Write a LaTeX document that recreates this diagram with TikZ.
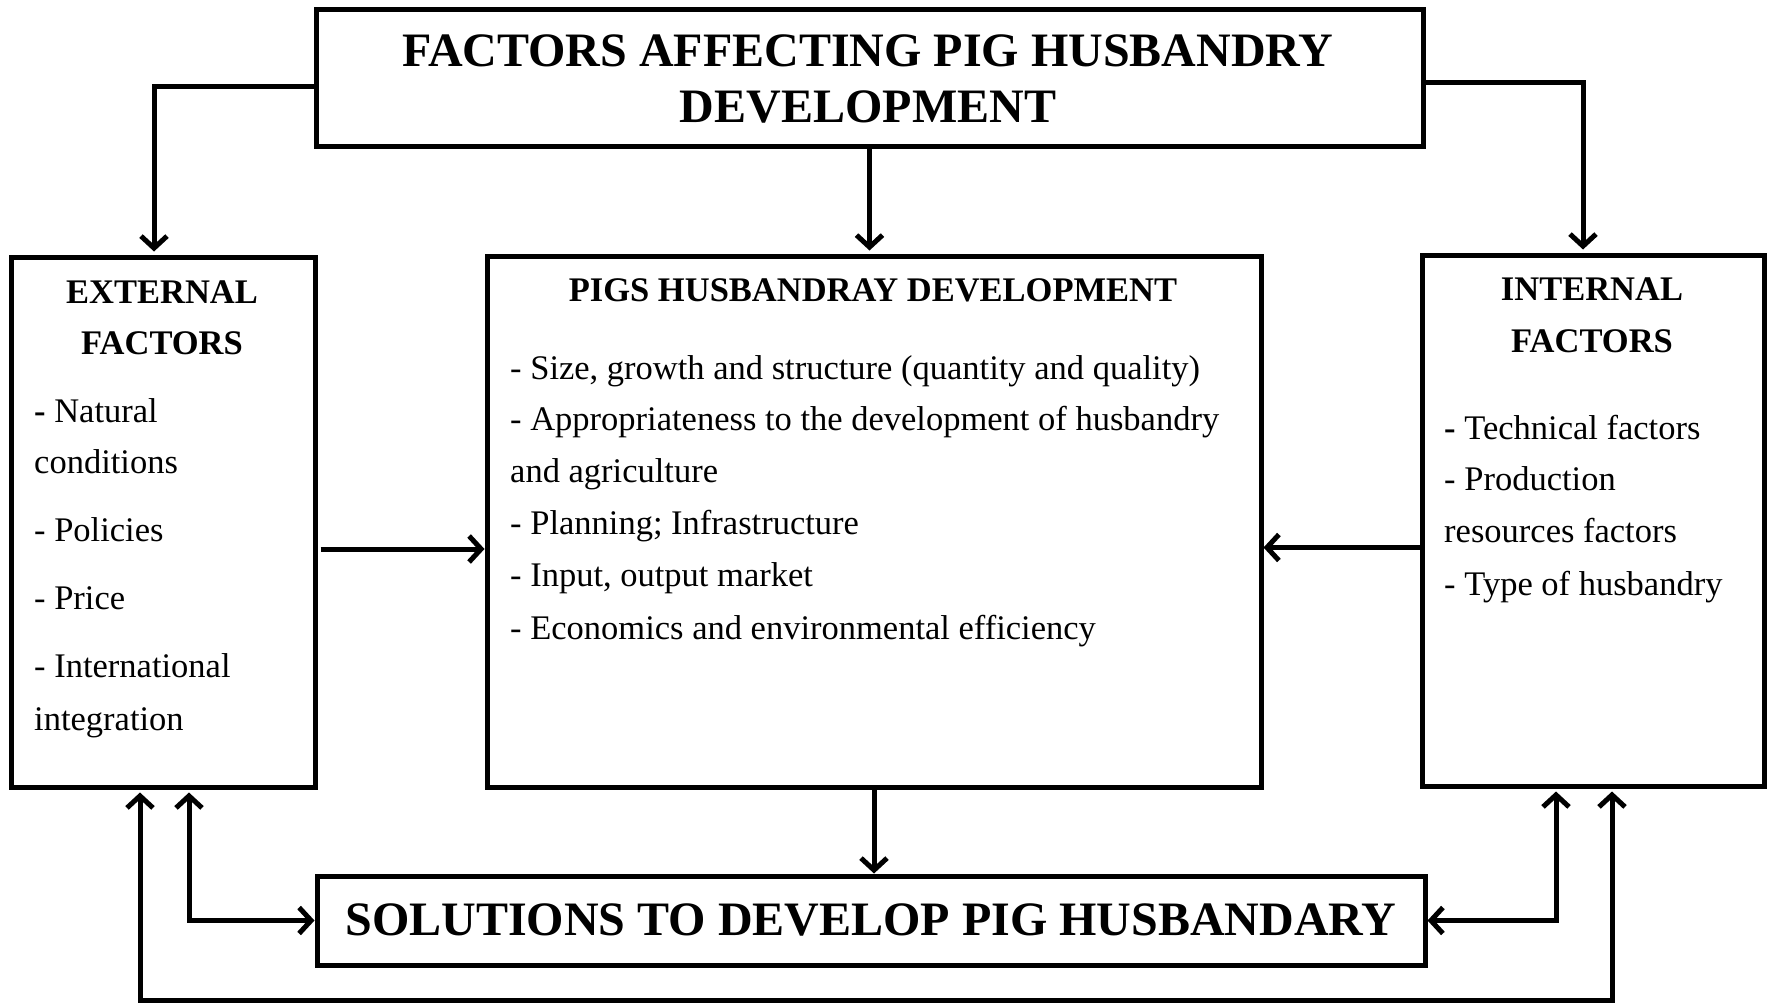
\documentclass[tikz,border=0pt]{standalone}
\usepackage{fontspec}
\setmainfont{Liberation Serif}
\usetikzlibrary{arrows.meta}
\begin{document}
\begin{tikzpicture}[x=1pt,y=-1pt,
  box/.style={draw, line width=5pt, inner sep=0pt, rectangle},
  arr/.style={line width=5pt, -{Straight Barb[length=12pt,width=26pt,line width=5pt]}},
  darr/.style={line width=5pt, {Straight Barb[length=12pt,width=26pt,line width=5pt]}-{Straight Barb[length=12pt,width=26pt,line width=5pt]}},
  body/.style={font=\fontsize{34.5}{40}\selectfont, inner sep=0pt, anchor=base west},
  head/.style={font=\fontsize{34.5}{40}\selectfont\bfseries, inner sep=0pt, anchor=base},
  title/.style={font=\fontsize{48}{56}\selectfont\bfseries, inner sep=0pt, anchor=base}
]
\useasboundingbox (0,0) rectangle (1768,1003);
% boxes
\node[box, minimum width=1107pt, minimum height=137pt] (top) at (869.5,78.5) {};
\node[box, minimum width=304pt, minimum height=530pt] (ext) at (163,522) {};
\node[box, minimum width=774pt, minimum height=531pt] (cen) at (874,521.5) {};
\node[box, minimum width=342pt, minimum height=531pt] (int) at (1593,520.5) {};
\node[box, minimum width=1108pt, minimum height=89pt] (sol) at (871,920.5) {};
% titles
\node[title] (t1) at (868,67) {FACTORS AFFECTING PIG HUSBANDRY};
\node[title] (t2) at (868,123) {DEVELOPMENT};
\node[title] (s1) at (871,935) {SOLUTIONS TO DEVELOP PIG HUSBANDARY};
% external
\node[head] (eh1) at (162,303) {EXTERNAL};
\node[head] (eh2) at (162,354) {FACTORS};
\node[body] (e1) at (34,422) {\textbf{-} Natural};
\node[body] (e2) at (34,473) {conditions};
\node[body] (e3) at (34,541) {- Policies};
\node[body] (e4) at (34,609) {- Price};
\node[body] (e5) at (34,677) {- International};
\node[body] (e6) at (34,730) {integration};
% center
\node[head] (ch) at (873,301) {PIGS HUSBANDRAY DEVELOPMENT};
\node[body] (c1) at (510,379) {- Size, growth and structure (quantity and quality)};
\node[body] (c2) at (510,430) {- Appropriateness to the development of husbandry};
\node[body] (c3) at (510,482) {and agriculture};
\node[body] (c4) at (510,534) {- Planning; Infrastructure};
\node[body] (c5) at (510,586) {- Input, output market};
\node[body] (c6) at (510,639) {- Economics and environmental efficiency};
% internal
\node[head] (ih1) at (1592,300) {INTERNAL};
\node[head] (ih2) at (1592,352) {FACTORS};
\node[body] (i1) at (1444,439) {\textbf{-} Technical factors};
\node[body] (i2) at (1444,490) {- Production};
\node[body] (i3) at (1444,542) {resources factors};
\node[body] (i4) at (1444,595) {- Type of husbandry};
% connectors
\draw[arr, shorten >=3pt] ([yshift=-8pt]top.west) -| ([xshift=-9pt]ext.north);
\draw[arr, shorten >=3pt] ([yshift=-4pt]top.east) -| ([xshift=-10pt]int.north);
\draw[arr, shorten >=3pt] (top.south) -- (top.south |- cen.north);
\draw[arr, shorten <=3pt] ([yshift=-27pt]ext.east) -- ([yshift=-27pt]ext.east -| cen.west);
\draw[arr] ([yshift=-27pt]int.west) -- ([yshift=-27pt]int.west -| cen.east);
\draw[arr] (cen.south) -- (cen.south |- sol.north);
\draw[darr, shorten <=3pt] ([xshift=26pt]ext.south) |- (sol.west);
\draw[darr, shorten <=3pt] ([xshift=-37pt]int.south) |- (sol.east);
\coordinate (lb) at (140,1000);
\coordinate (rb) at (1612,1000);
\draw[darr, shorten <=3pt, shorten >=3pt] (ext.south -| lb) -- (lb) -- (rb) -- (int.south -| rb);
\end{tikzpicture}
\end{document}
